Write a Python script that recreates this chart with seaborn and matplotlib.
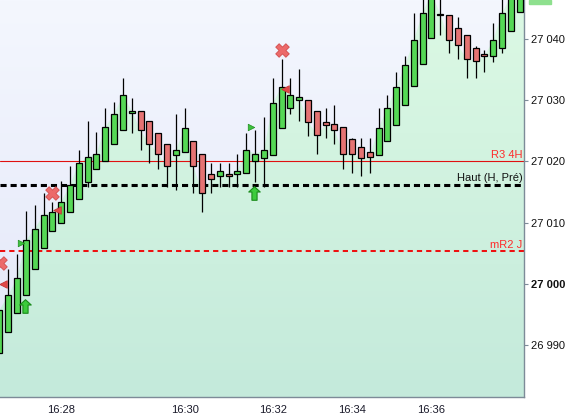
import numpy as np
import matplotlib
matplotlib.use("Agg")
import matplotlib.pyplot as plt
import matplotlib.transforms as mtransforms
from matplotlib.path import Path
from matplotlib.patches import Polygon, Rectangle
from matplotlib.colors import to_rgb
import seaborn as sns

# bougies (une par barre, indices 0..59)
opens = [26988.7, 26992.2, 26995.2, 26998.1, 27002.5, 27005.8, 27008.6, 27010.0, 27011.7, 27013.8,
         27016.7, 27018.7, 27020.0, 27022.8, 27025.2, 27028.0, 27028.2, 27026.7, 27024.7, 27022.9,
         27021.1, 27021.5, 27023.4, 27021.3, 27018.0, 27017.7, 27018.0, 27017.9, 27018.2, 27020.0,
         27020.6, 27021.1, 27025.4, 27028.8, 27030.0, 27030.1, 27028.3, 27026.4, 27026.2, 27025.7,
         27023.6, 27022.4, 27021.5, 27021.1, 27023.3, 27026.0, 27029.2, 27032.4, 27036.0, 27040.2,
         27044.0, 27044.0, 27041.9, 27040.6, 27038.6, 27037.5, 27037.3, 27038.5, 27041.4, 27044.5]
highs = [26995.7, 27002.4, 27004.8, 27011.9, 27012.9, 27014.8, 27013.3, 27016.8, 27019.2, 27021.8,
         27026.7, 27024.8, 27028.8, 27029.8, 27033.7, 27030.3, 27028.2, 27026.7, 27024.7, 27022.9,
         27027.7, 27028.8, 27023.4, 27021.3, 27019.7, 27019.7, 27019.7, 27021.3, 27024.7, 27025.2,
         27027.2, 27033.7, 27036.7, 27033.7, 27035.2, 27030.1, 27028.3, 27028.8, 27029.3, 27025.7,
         27023.9, 27023.8, 27023.8, 27028.8, 27030.8, 27034.7, 27037.2, 27044.2, 27048.0, 27049.0,
         27047.5, 27044.0, 27043.7, 27040.6, 27038.8, 27038.3, 27042.7, 27047.0, 27048.0, 27049.0]
lows = [26988.7, 26992.2, 26995.2, 26998.1, 27002.5, 27005.8, 27008.6, 27010.0, 27011.7, 27013.8,
        27015.8, 27018.7, 27020.0, 27022.8, 27025.2, 27024.7, 27021.8, 27019.7, 27018.7, 27015.8,
        27015.3, 27021.5, 27014.8, 27011.8, 27014.8, 27015.8, 27015.8, 27015.8, 27018.2, 27016.7,
        27015.8, 27021.1, 27025.4, 27027.7, 27026.7, 27024.2, 27021.3, 27023.8, 27022.8, 27018.7,
        27018.2, 27017.7, 27018.2, 27021.1, 27023.3, 27026.0, 27029.2, 27032.4, 27036.0, 27040.2,
        27040.7, 27037.8, 27036.7, 27033.7, 27033.7, 27034.7, 27036.2, 27037.8, 27041.4, 27044.5]
closes = [26995.7, 26998.1, 27001.0, 27007.1, 27009.0, 27011.3, 27011.7, 27013.4, 27016.1, 27019.7,
          27020.7, 27021.3, 27025.6, 27027.7, 27030.8, 27028.3, 27025.1, 27022.9, 27021.3, 27019.2,
          27021.8, 27025.4, 27019.2, 27014.9, 27017.2, 27018.5, 27017.7, 27018.5, 27021.8, 27021.3,
          27021.8, 27029.5, 27032.2, 27030.9, 27030.5, 27026.5, 27024.4, 27026.0, 27025.2, 27021.3,
          27021.3, 27020.5, 27020.8, 27025.4, 27028.8, 27032.1, 27035.7, 27039.8, 27044.3, 27047.5,
          27044.1, 27039.9, 27039.1, 27036.7, 27036.5, 27037.2, 27039.8, 27044.2, 27047.0, 27048.0]

# heures sous l'axe (indice de barre -> libellé)
tick_bars = [7, 21, 31, 40, 49]
tick_labels = ["16:28", "16:30", "16:32", "16:34", "16:36"]
price_ticks = [26990, 27000, 27010, 27020, 27030, 27040]

# niveaux horizontaux
levels = ["R3 4H", "Haut (H, Pré)", "mR2 J"]
level_values = [27020.0, 27016.2, 27005.4]

# signaux
cross_x = [0.1, 6.0, 32.0]
cross_y = [27003.4, 27014.9, 27038.3]
red_tri_x = [0.45, 6.5, 32.4]
red_tri_y = [27000.0, 27012.0, 27031.9]
green_tri_x = [2.45, 28.5]
green_tri_y = [27006.6, 27025.6]
arrow_x = [2.9, 28.9]
arrow_y = [26996.4, 27014.9]

YMIN, YMAX = 26981.5, 27046.4
XMIN, XMAX = 0.06, 59.5

sns.set_style("white")
plt.rcParams['font.family'] = ['Liberation Sans', 'DejaVu Sans']

fig = plt.figure(figsize=(5.74, 4.15), dpi=100)
ax = fig.add_axes([0, 1 - 397 / 415, 524 / 574, 397 / 415])
ax.set_xlim(XMIN, XMAX)
ax.set_ylim(YMIN, YMAX)


def gradient(top, bottom, n=256):
    t = np.linspace(0, 1, n).reshape(-1, 1, 1)
    a = np.array(to_rgb(top)).reshape(1, 1, 3)
    b = np.array(to_rgb(bottom)).reshape(1, 1, 3)
    return a * (1 - t) + b * t


# fond dégradé
ax.imshow(gradient("#f4f7fe", "#e2e6f8"), extent=[XMIN, XMAX, YMIN, YMAX],
          aspect="auto", origin="upper", zorder=0)

# zone verte sous les clôtures
idx = np.arange(len(closes))
poly_pts = [(0, YMIN)] + list(zip(idx, closes)) + [(XMAX + 1, closes[-1]), (XMAX + 1, YMIN)]
area = Polygon(poly_pts, closed=True, facecolor="none", edgecolor="none")
ax.add_patch(area)
im = ax.imshow(gradient("#dcf9e4", "#c4eadb"), extent=[XMIN, XMAX, YMIN, YMAX],
               aspect="auto", origin="upper", zorder=0.5)
im.set_clip_path(area)

# niveaux
ax.axhline(level_values[0], color="#e01010", lw=0.8, zorder=1)
ax.axhline(level_values[1], color="black", lw=2.2, dashes=(2.0, 1.3), zorder=1)
ax.axhline(level_values[2], color="#ee1111", lw=1.45, dashes=(2.6, 2.0), zorder=1)

tr = mtransforms.blended_transform_factory(ax.transAxes, ax.transData)
offsets = [0.5, 0.65, 0.4]
colors = ["#ff2a2a", "#111111", "#ff2a2a"]
for name, val, off, col in zip(levels, level_values, offsets, colors):
    ax.text(0.997, val + off, name, transform=tr, ha="right", va="baseline",
            fontsize=8, color=col, zorder=5)

# bougies
o = np.array(opens)
c = np.array(closes)
up = c >= o
ax.vlines(idx, lows, highs, color="black", lw=0.9, zorder=2)
body_h = np.maximum(np.abs(c - o), 0.15)
ax.bar(idx, body_h, bottom=np.minimum(o, c), width=0.68,
       color=np.where(up, "#55d855", "#e57373"), edgecolor="black", linewidth=0.9, zorder=3)

# signaux
ax.scatter(cross_x, cross_y, marker="X", s=95, color="#ec6a6a", edgecolors="#d24a4a",
           linewidths=0.6, zorder=4)
ax.scatter(red_tri_x, red_tri_y, marker="<", s=30, color="#e04848", edgecolors="#c03030",
           linewidths=0.5, zorder=4)
ax.scatter(green_tri_x, green_tri_y, marker=">", s=22, color="#3fc23f", edgecolors="#1e8f1e",
           linewidths=0.5, zorder=4)
arrow = Path([(0, 1), (0.85, 0.22), (0.38, 0.22), (0.38, -1), (-0.38, -1),
              (-0.38, 0.22), (-0.85, 0.22), (0, 1)], closed=True)
sns.scatterplot(x=arrow_x, y=arrow_y, marker=arrow, s=95, color="#3ccb3c",
                edgecolor="#1a8a1a", linewidth=0.8, zorder=4, ax=ax)

# axes
for side in ["left", "top"]:
    ax.spines[side].set_visible(False)
for side in ["right", "bottom"]:
    ax.spines[side].set_color("#7d8b98")
    ax.spines[side].set_linewidth(1.0)
ax.yaxis.tick_right()
ax.set_yticks(price_ticks)
ax.set_yticklabels([f"{v:,}".replace(",", " ") for v in price_ticks])
for lab, v in zip(ax.get_yticklabels(), price_ticks):
    if v == 27000:
        lab.set_fontweight("bold")
ax.set_xticks(tick_bars)
ax.set_xticklabels(tick_labels)
ax.tick_params(axis="y", direction="out", length=3, width=0.8, color="#7d8b98",
               pad=2, labelsize=8, labelcolor="#111111")
ax.tick_params(axis="x", direction="out", length=3, width=0.8, color="#7d8b98",
               pad=3, labelsize=8, labelcolor="#1a1a2a")

# étiquette de prix en haut à droite
fig.patches.append(Rectangle((529 / 574, 1 - 4 / 415), 22 / 574, 4 / 415,
                             transform=fig.transFigure, color="#8ee08e", zorder=5))

fig.savefig("out.png", dpi=100)
